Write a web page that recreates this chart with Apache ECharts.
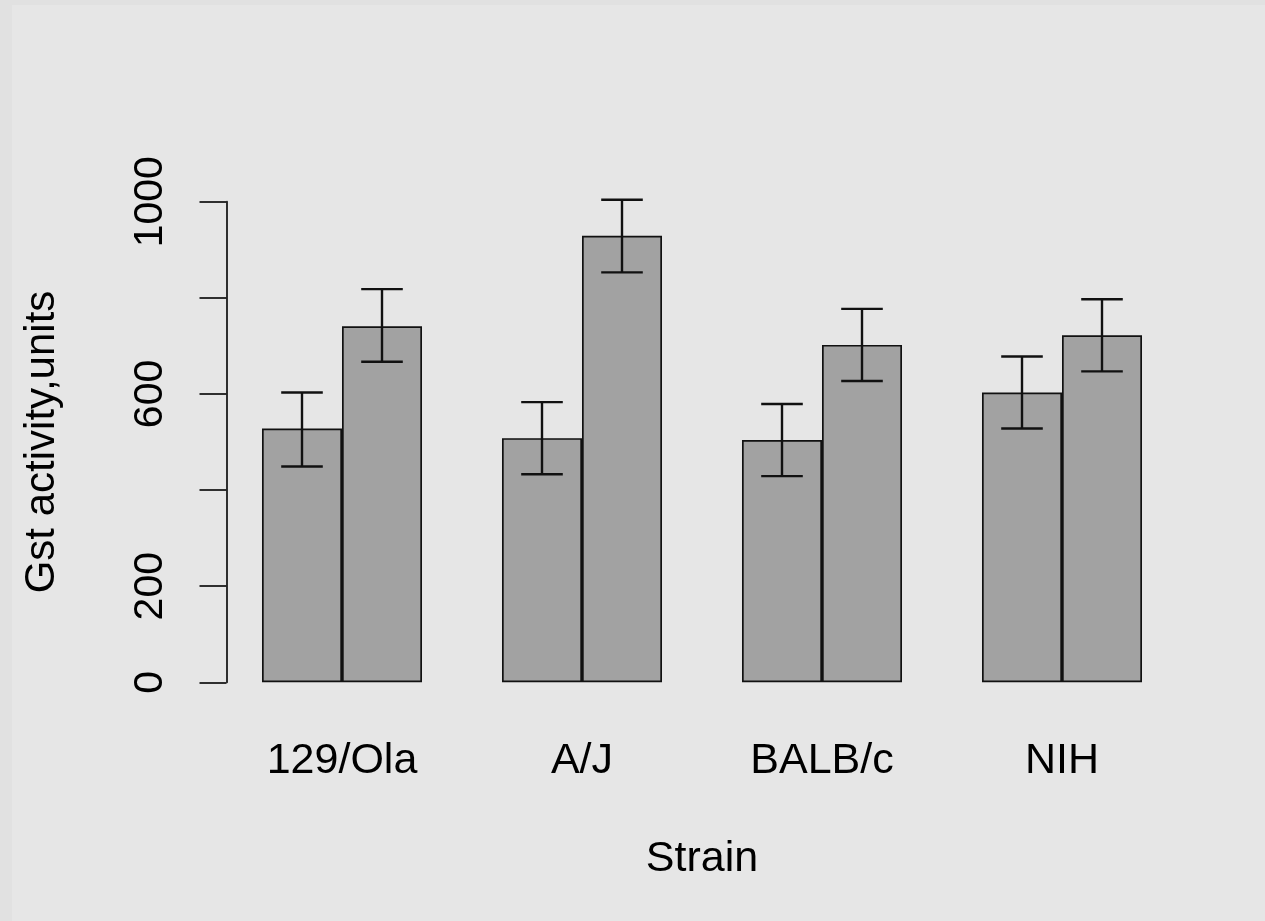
<!DOCTYPE html>
<html>
<head>
<meta charset="utf-8">
<title>Gst activity by strain</title>
<script src="https://cdn.jsdelivr.net/npm/echarts@6/dist/echarts.min.js"></script>
<style>
  html, body { margin: 0; padding: 0; background: #e1e1e1; }
  #chart { width: 1265px; height: 921px; }
</style>
</head>
<body>
<div id="chart"></div>
<script>
// Strains on the x axis
const strains = ['129/Ola', 'A/J', 'BALB/c', 'NIH'];

// Mean Gst activity for the two groups within each strain
const meanGroup1 = [528, 508, 504, 603];
const meanGroup2 = [741, 929, 702, 722];

// Error bar limits (lower / upper) for each group
const lowGroup1 = [449, 433, 429, 528];
const highGroup1 = [603, 583, 579, 678];
const lowGroup2 = [667, 853, 627, 647];
const highGroup2 = [818, 1004, 777, 797];

// Y axis ticks; only some of them carry a label
const yTicks = [0, 200, 400, 600, 800, 1000];
const yLabelled = [0, 200, 600, 1000];

const FONT = "'Liberation Sans', Arial, sans-serif";
const INK = '#111';

// Rows for the error bar series: [category index, low, high, group]
const errRows = [];
strains.forEach(function (s, i) {
  errRows.push([i, lowGroup1[i], highGroup1[i], 0]);
  errRows.push([i, lowGroup2[i], highGroup2[i], 1]);
});

const chart = echarts.init(document.getElementById('chart'), null, { renderer: 'canvas' });

chart.setOption({
  backgroundColor: '#e1e1e1',
  animation: false,
  graphic: [{
    type: 'rect',
    z: -10,
    left: 12,
    top: 5,
    shape: { width: 1253, height: 916 },
    style: { fill: '#e6e6e6' },
    silent: true
  }],
  grid: {
    left: 222,
    right: 83,
    top: 201.7,
    bottom: 238.7,
    containLabel: false
  },
  xAxis: {
    type: 'category',
    data: strains,
    axisLine: { show: false },
    axisTick: { show: false },
    axisLabel: {
      color: '#000',
      fontFamily: FONT,
      fontSize: 43,
      margin: 57
    },
    name: 'Strain',
    nameLocation: 'middle',
    nameGap: 155,
    nameTextStyle: { color: '#000', fontFamily: FONT, fontSize: 43 }
  },
  yAxis: {
    type: 'value',
    min: yTicks[0],
    max: yTicks[yTicks.length - 1],
    interval: yTicks[1] - yTicks[0],
    offset: -4.5,
    splitLine: { show: false },
    axisLine: { show: true, lineStyle: { color: '#1a1a1a', width: 1.8 } },
    axisTick: { show: true, length: 27, lineStyle: { color: '#1a1a1a', width: 1.8 } },
    axisLabel: {
      rotate: 90,
      color: '#000',
      fontFamily: FONT,
      fontSize: 41,
      margin: 55,
      formatter: function (v) {
        return yLabelled.indexOf(v) >= 0 ? String(v) : '';
      }
    },
    name: 'Gst activity,units',
    nameLocation: 'middle',
    nameGap: 163,
    nameRotate: 90,
    nameTextStyle: { color: '#000', fontFamily: FONT, fontSize: 42 }
  },
  series: [
    {
      type: 'bar',
      data: meanGroup1,
      barGap: '0%',
      barCategoryGap: '33.33%',
      itemStyle: { color: '#a2a2a2', borderColor: INK, borderWidth: 1.7 }
    },
    {
      type: 'bar',
      data: meanGroup2,
      barGap: '0%',
      barCategoryGap: '33.33%',
      itemStyle: { color: '#a2a2a2', borderColor: INK, borderWidth: 1.7 }
    },
    {
      type: 'custom',
      data: errRows,
      z: 5,
      clip: false,
      renderItem: function (params, api) {
        const cat = api.value(0);
        const group = api.value(3);
        const band = api.size([1, 0])[0];
        const barW = band / 3;
        const centre = api.coord([cat, 0])[0] + (group === 0 ? -barW / 2 : barW / 2);
        const yLow = api.coord([cat, api.value(1)])[1];
        const yHigh = api.coord([cat, api.value(2)])[1];
        const half = barW * 0.26;
        const style = { stroke: INK, lineWidth: 2.4, fill: null };
        return {
          type: 'group',
          children: [
            { type: 'line', shape: { x1: centre, y1: yLow, x2: centre, y2: yHigh }, style: style },
            { type: 'line', shape: { x1: centre - half, y1: yHigh, x2: centre + half, y2: yHigh }, style: style },
            { type: 'line', shape: { x1: centre - half, y1: yLow, x2: centre + half, y2: yLow }, style: style }
          ]
        };
      }
    }
  ]
});
</script>
</body>
</html>
